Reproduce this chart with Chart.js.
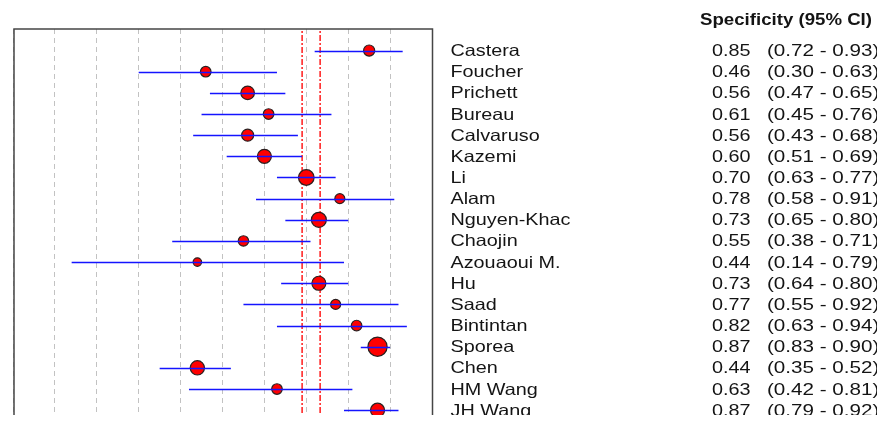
<!DOCTYPE html>
<html>
<head>
<meta charset="utf-8">
<title>Specificity forest plot</title>
<script src="https://cdn.jsdelivr.net/npm/chart.js@4/dist/chart.umd.min.js"></script>
<style>
  html, body { margin: 0; padding: 0; background: #fff; overflow: hidden; }
  #wrap { width: 877px; height: 415px; overflow: hidden; }
  #forest { display: block; }
</style>
</head>
<body>
<div id="wrap"><canvas id="forest" width="877" height="440"></canvas></div>
<script>
// Study-level specificity with 95% confidence intervals
const studies = ['Castera', 'Foucher', 'Prichett', 'Bureau', 'Calvaruso', 'Kazemi', 'Li', 'Alam',
  'Nguyen-Khac', 'Chaojin', 'Azouaoui M.', 'Hu', 'Saad', 'Bintintan', 'Sporea', 'Chen', 'HM Wang', 'JH Wang'];
const specificity = [0.85, 0.46, 0.56, 0.61, 0.56, 0.60, 0.70, 0.78, 0.73, 0.55, 0.44, 0.73, 0.77, 0.82, 0.87, 0.44, 0.63, 0.87];
const ciLow  = [0.72, 0.30, 0.47, 0.45, 0.43, 0.51, 0.63, 0.58, 0.65, 0.38, 0.14, 0.64, 0.55, 0.63, 0.83, 0.35, 0.42, 0.79];
const ciHigh = [0.93, 0.63, 0.65, 0.76, 0.68, 0.69, 0.77, 0.91, 0.80, 0.71, 0.79, 0.80, 0.92, 0.94, 0.90, 0.52, 0.81, 0.92];
// Relative study weights (marker area)
const studyWeight = [31, 28, 46, 28, 36, 49, 61, 25, 56, 27, 18, 49, 25, 28, 92, 51, 28, 49];
// Pooled reference lines
const summaryLines = [0.69, 0.733];

const FONT = '"Liberation Sans", Arial, Helvetica, sans-serif';

function stretchedText(ctx, text, x, y, sx, align) {
  ctx.save();
  ctx.translate(x, y);
  ctx.scale(sx, 1);
  ctx.textAlign = align;
  ctx.fillText(text, 0, 0);
  ctx.restore();
}

// Horizontal CI whiskers, drawn on top of the study markers
const ciWhiskers = {
  id: 'ciWhiskers',
  afterDatasetsDraw(chart) {
    const { ctx, chartArea: a, scales: { x, y } } = chart;
    ctx.save();
    ctx.beginPath();
    ctx.rect(a.left, a.top, a.right - a.left, a.bottom - a.top);
    ctx.clip();
    ctx.strokeStyle = '#1414ff';
    ctx.lineWidth = 1.4;
    studies.forEach((_, i) => {
      const py = Math.round(y.getPixelForValue(i)) + 0.5;
      ctx.beginPath();
      ctx.moveTo(x.getPixelForValue(ciLow[i]), py);
      ctx.lineTo(x.getPixelForValue(ciHigh[i]), py);
      ctx.stroke();
    });
    ctx.restore();
  }
};

// Plot frame: top, left and right edges
const plotFrame = {
  id: 'plotFrame',
  afterDraw(chart) {
    const { ctx, chartArea: a } = chart;
    ctx.save();
    ctx.strokeStyle = '#454545';
    ctx.lineWidth = 1.5;
    ctx.beginPath();
    ctx.moveTo(a.left + 1, a.bottom + 20);
    ctx.lineTo(a.left + 1, a.top);
    ctx.lineTo(a.right + 0.5, a.top);
    ctx.lineTo(a.right + 0.5, a.bottom + 20);
    ctx.stroke();
    ctx.restore();
  }
};

// Study table on the right: name, estimate, interval
const studyTable = {
  id: 'studyTable',
  afterDraw(chart) {
    const { ctx, scales: { y } } = chart;
    ctx.save();
    ctx.fillStyle = '#141414';
    ctx.textBaseline = 'alphabetic';
    ctx.font = 'bold 16.5px ' + FONT;
    stretchedText(ctx, 'Specificity (95% CI)', 700, 25, 1.13, 'left');
    ctx.font = '16.5px ' + FONT;
    studies.forEach((name, i) => {
      const by = y.getPixelForValue(i) + 5.5;
      stretchedText(ctx, name, 450.5, by, 1.2, 'left');
      stretchedText(ctx, specificity[i].toFixed(2), 750.5, by, 1.2, 'right');
      stretchedText(ctx, '(' + ciLow[i].toFixed(2) + ' - ' + ciHigh[i].toFixed(2) + ')', 767, by, 1.25, 'left');
    });
    ctx.restore();
  }
};

const radii = studyWeight.map(w => Math.sqrt(w));

new Chart(document.getElementById('forest'), {
  type: 'scatter',
  data: {
    datasets: [
      {
        data: specificity.map((v, i) => ({ x: v, y: i })),
        pointRadius: radii,
        pointHoverRadius: radii,
        backgroundColor: '#ff0000',
        borderColor: '#2a2020',
        borderWidth: 1.2
      },
      ...summaryLines.map(v => ({
        type: 'line',
        data: [{ x: v, y: -3 }, { x: v, y: 20 }],
        borderColor: '#ff1a1a',
        borderWidth: 1.5,
        borderDash: [6, 2, 2, 2],
        pointRadius: 0,
        fill: false
      }))
    ]
  },
  options: {
    responsive: false,
    animation: false,
    events: [],
    layout: { padding: { top: 29, left: 13, right: 0, bottom: 0 } },
    plugins: { legend: { display: false }, tooltip: { enabled: false } },
    scales: {
      x: {
        type: 'linear', min: 0, max: 1,
        ticks: { display: false, stepSize: 0.1 },
        grid: { color: '#c2c2c2', lineWidth: 1, drawTicks: false },
        border: { display: false, dash: [5, 4] },
        afterFit(s) { s.height = 0; }
      },
      y: {
        type: 'linear', position: 'right', reverse: true,
        min: -1.02, max: 17.9,
        ticks: { display: false },
        grid: { display: false, drawTicks: false },
        border: { display: false },
        afterFit(s) { s.width = 445; }
      }
    }
  },
  plugins: [ciWhiskers, plotFrame, studyTable]
});
</script>
</body>
</html>
